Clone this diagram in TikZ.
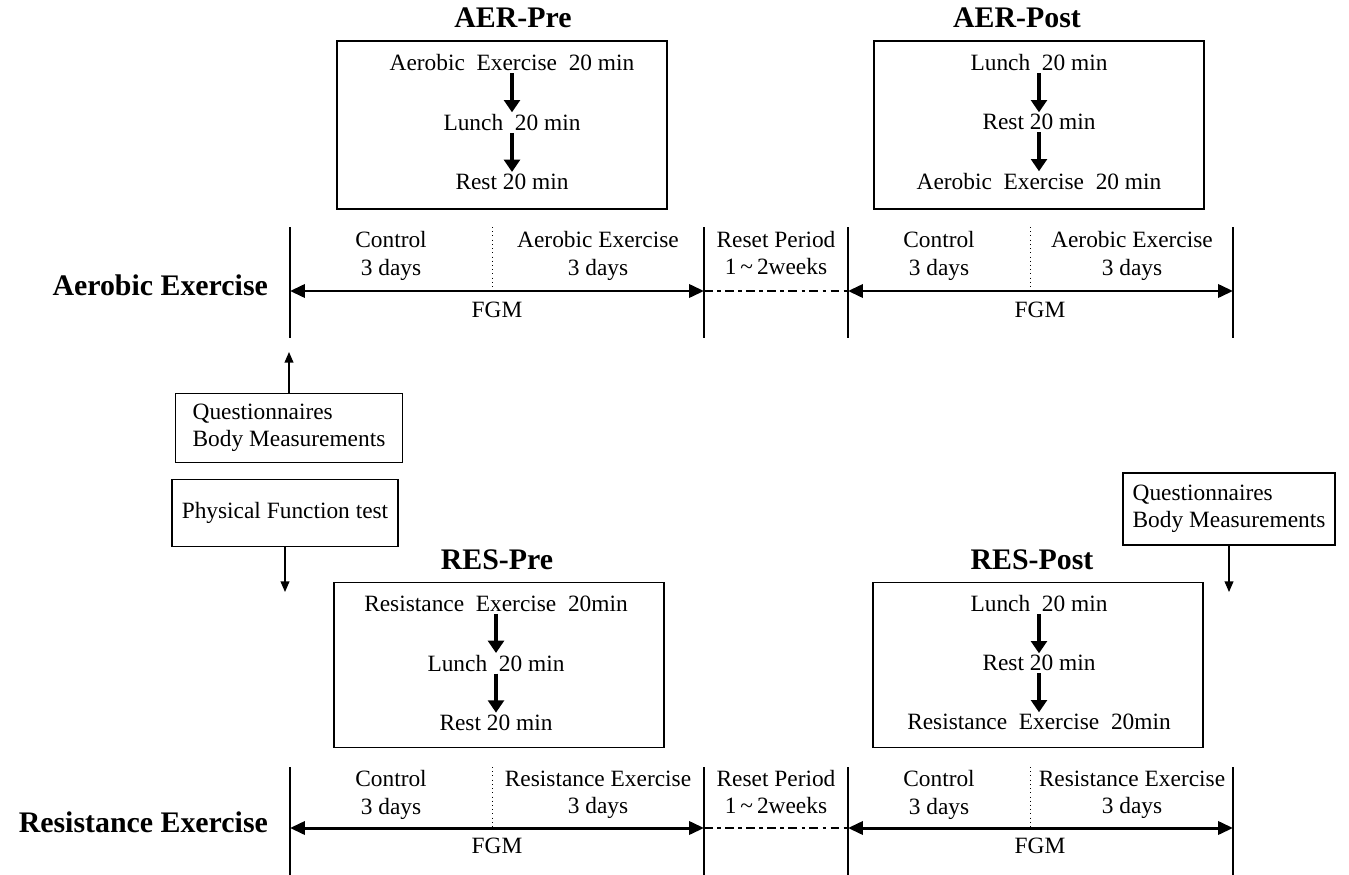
\documentclass[tikz,border=0pt]{standalone}
\usepackage{fontspec}
\setmainfont{Liberation Serif}
\usetikzlibrary{arrows.meta,positioning,calc}

\begin{document}
\begin{tikzpicture}[
  x=0.02cm, y=-0.02cm,
  node distance=0.78cm,
  every node/.style={font=\fontsize{13.3}{15.5}\selectfont,inner sep=1pt,align=center},
  title/.style={font=\bfseries\fontsize{17}{20}\selectfont},
  group/.style={font=\bfseries\fontsize{17}{20}\selectfont,anchor=east},
  stage/.style={draw,line width=1.1pt,minimum width=6.6cm,minimum height=3.35cm},
  note/.style={draw,line width=0.9pt,align=left,minimum width=4.54cm,minimum height=1.38cm},
  flow/.style={-{Triangle[length=7pt,width=9pt]},line width=2pt},
  span/.style={{Triangle[length=8.5pt,width=7.5pt]}-{Triangle[length=8.5pt,width=7.5pt]},line width=1.7pt},
  gap/.style={line width=0.7pt,dash pattern=on 5pt off 2.5pt on 2pt off 2.5pt},
  tick/.style={line width=0.9pt},
  hint/.style={-{Triangle[length=6pt,width=5pt]},line width=0.7pt},
]
\useasboundingbox (0,0) rectangle (1349,875);

% aerobic sessions
\node[title] (aerpre-t) at (513,18) {AER-Pre};
\node[stage] (aerpre) at (502,125) {};
\node (aerpre1) at (512,63) {Aerobic\ \ Exercise\ \ 20 min};
\node[below=of aerpre1] (aerpre2) {Lunch\ \ 20 min};
\node[below=of aerpre2] (aerpre3) {Rest 20 min};
\draw[flow] (aerpre1) -- (aerpre2);
\draw[flow] (aerpre2) -- (aerpre3);

\node[title] (aerpost-t) at (1017,18) {AER-Post};
\node[stage] (aerpost) at (1039,125) {};
\node (aerpost1) at (1039,63) {Lunch\ \ 20 min};
\node[below=of aerpost1] (aerpost2) {Rest 20 min};
\node[below=of aerpost2] (aerpost3) {Aerobic\ \ Exercise\ \ 20 min};
\draw[flow] (aerpost1) -- (aerpost2);
\draw[flow] (aerpost2) -- (aerpost3);

% aerobic timeline
\coordinate (a0) at (290,291);
\coordinate (a1) at (704,291);
\coordinate (a2) at (848,291);
\coordinate (a3) at (1233,291);
\foreach \p in {a0,a1,a2,a3}
  \draw[tick] ($(\p)+(0,-64)$) -- ($(\p)+(0,47)$);
\draw[dotted] (492,227) -- (492,291);
\draw[dotted] (1030,227) -- (1030,291);
\draw[span] (a0) -- (a1);
\draw[gap] (a1) -- (a2);
\draw[span] (a2) -- (a3);
\node[group] (aer) at (270,285) {Aerobic Exercise};
\node (actl1) at (391,256) {Control\\3 days};
\node (aex1) at (598,256) {Aerobic Exercise\\3 days};
\node (arst) at (776,253) {Reset Period\\1\,\textasciitilde\,2weeks};
\node (actl2) at (939,256) {Control\\3 days};
\node (aex2) at (1132,256) {Aerobic Exercise\\3 days};
\node (afgm1) at (497,310) {FGM};
\node (afgm2) at (1040,310) {FGM};

% measurements
\node[note] (q1) at (289,428) {Questionnaires\\Body Measurements};
\coordinate (q1up) at (289,352);
\draw[hint] (q1) -- (q1up);
\node[note,minimum width=4.52cm,minimum height=1.34cm] (pf) at (285,513) {Physical Function test};
\coordinate (pfdown) at (285,592);
\draw[hint] (pf) -- (pfdown);
\node[note,minimum width=4.24cm,minimum height=1.44cm] (q2) at (1229,509) {Questionnaires\\Body Measurements};
\coordinate (q2down) at (1229,592);
\draw[hint] (q2) -- (q2down);

% resistance sessions
\node[title] (respre-t) at (497,560) {RES-Pre};
\node[stage,minimum height=3.3cm] (respre) at (499,665) {};
\node (respre1) at (496,604) {Resistance\ \ Exercise\ \ 20min};
\node[below=of respre1] (respre2) {Lunch\ \ 20 min};
\node[below=of respre2] (respre3) {Rest 20 min};
\draw[flow] (respre1) -- (respre2);
\draw[flow] (respre2) -- (respre3);

\node[title] (respost-t) at (1032,560) {RES-Post};
\node[stage,minimum height=3.3cm] (respost) at (1038,665) {};
\node (respost1) at (1039,604) {Lunch\ \ 20 min};
\node[below=of respost1] (respost2) {Rest 20 min};
\node[below=of respost2] (respost3) {Resistance\ \ Exercise\ \ 20min};
\draw[flow] (respost1) -- (respost2);
\draw[flow] (respost2) -- (respost3);

% resistance timeline
\coordinate (r0) at (290,828);
\coordinate (r1) at (704,828);
\coordinate (r2) at (848,828);
\coordinate (r3) at (1233,828);
\foreach \p in {r0,r1,r2,r3}
  \draw[tick] ($(\p)+(0,-61)$) -- ($(\p)+(0,47)$);
\draw[dotted] (492,767) -- (492,828);
\draw[dotted] (1030,767) -- (1030,828);
\draw[span] (r0) -- (r1);
\draw[gap] (r1) -- (r2);
\draw[span] (r2) -- (r3);
\node[group] (res) at (270,822) {Resistance Exercise};
\node (rctl1) at (391,795) {Control\\3 days};
\node (rex1) at (598,795) {Resistance Exercise\\3 days};
\node (rrst) at (776,792) {Reset Period\\1\,\textasciitilde\,2weeks};
\node (rctl2) at (939,795) {Control\\3 days};
\node (rex2) at (1132,795) {Resistance Exercise\\3 days};
\node (rfgm1) at (497,846) {FGM};
\node (rfgm2) at (1040,846) {FGM};
\end{tikzpicture}
\end{document}
